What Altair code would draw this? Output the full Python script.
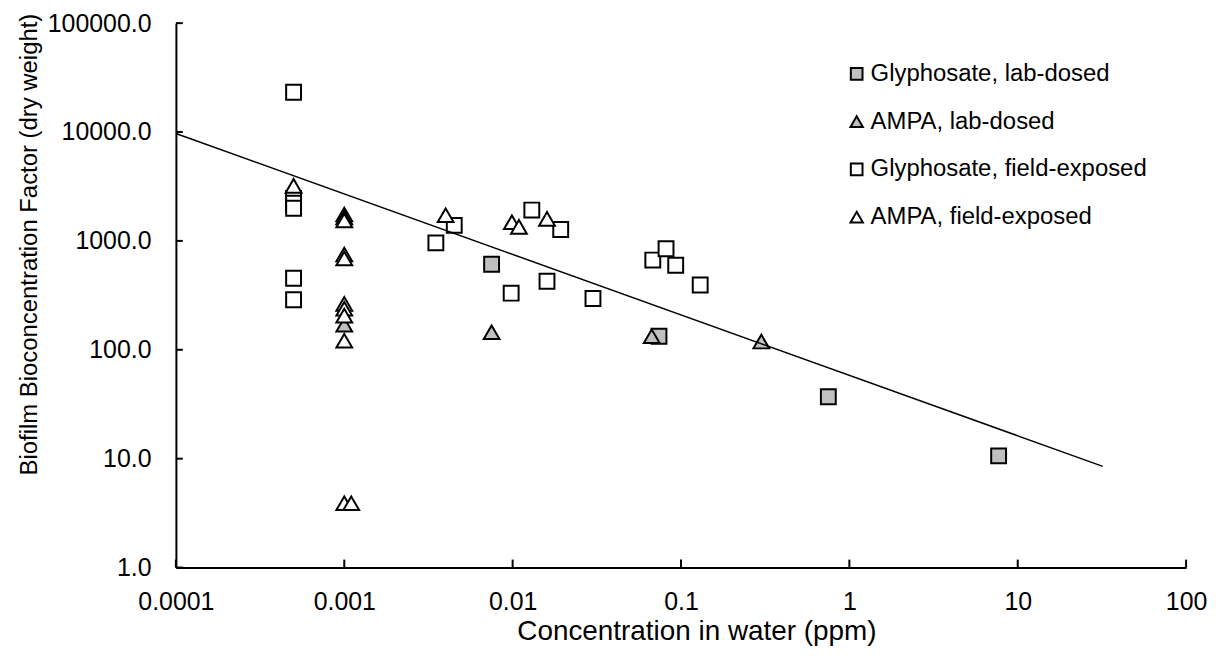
import altair as alt
import pandas as pd

FONT = "Liberation Sans"

series_names = ["Glyphosate, lab-dosed", "AMPA, lab-dosed",
                "Glyphosate, field-exposed", "AMPA, field-exposed"]

gly_lab_x = [0.0075, 0.074, 0.75, 7.7]
gly_lab_y = [610, 133, 37, 10.6]

ampa_lab_x = [0.001, 0.0075, 0.067, 0.30]
ampa_lab_y = [170, 145, 133, 119]

gly_field_x = [0.0005, 0.0005, 0.0005, 0.0005, 0.0005, 0.0005, 0.0035, 0.0045,
               0.0098, 0.013, 0.016, 0.0193, 0.030, 0.068, 0.0815, 0.093, 0.13]
gly_field_y = [23200, 2460, 2215, 1995, 454, 288, 960, 1390,
               331, 1920, 426, 1274, 296, 667, 847, 597, 394]

ampa_field_x = [0.0005, 0.001, 0.001, 0.001, 0.001, 0.001, 0.001, 0.001, 0.001,
                0.001, 0.001, 0.0011, 0.004, 0.0099, 0.0109, 0.016]
ampa_field_y = [3200, 1750, 1640, 1540, 750, 690, 264, 238, 206,
                121, 3.9, 3.9, 1720, 1485, 1345, 1593]

trend_x = [0.0001, 32]
trend_y = [9700, 8.5]

x_ticks = [0.0001, 0.001, 0.01, 0.1, 1, 10, 100]
y_ticks = [1, 10, 100, 1000, 10000, 100000]

X_TITLE = "Concentration in water (ppm)"
Y_TITLE = "Biofilm Bioconcentration Factor (dry weight)"

rows = []
for name, xs, ys in [(series_names[0], gly_lab_x, gly_lab_y),
                     (series_names[1], ampa_lab_x, ampa_lab_y),
                     (series_names[2], gly_field_x, gly_field_y),
                     (series_names[3], ampa_field_x, ampa_field_y)]:
    for xv, yv in zip(xs, ys):
        rows.append({"series": name, "x": xv, "y": yv})
df = pd.DataFrame(rows)
df["order"] = df["series"].map({n: i for i, n in enumerate(series_names)})

trend_df = pd.DataFrame({"x": trend_x, "y": trend_y})
xt_df = pd.DataFrame({"x": x_ticks})
yt_df = pd.DataFrame({"y": y_ticks})

W, H = 1015, 547

xscale = alt.Scale(type="log", domain=[0.0001, 100], nice=False)
yscale = alt.Scale(type="log", domain=[1, 100000], nice=False)

SQ = "M-0.83,-0.83H0.83V0.83H-0.83Z"
TRI = "M0,-0.76L0.88,0.76L-0.88,0.76Z"

legend = alt.Legend(title=None, orient="none", legendX=672, legendY=39,
                    labelFont=FONT, labelFontSize=24, labelColor="black", labelLimit=0,
                    symbolSize=200, symbolStrokeWidth=2, symbolStrokeColor="black",
                    symbolOpacity=1, rowPadding=24, labelOffset=2, padding=0)

x_axis = alt.Axis(values=x_ticks, format="~g", title=X_TITLE,
                  labelFont=FONT, labelFontSize=25, labelColor="black", labelPadding=22.5,
                  ticks=False, tickSize=0, domainColor="black", domainWidth=2, grid=False,
                  titleFont=FONT, titleFontSize=28, titleColor="black", titleFontWeight="normal",
                  titleX=523, titleY=72.5, titleBaseline="alphabetic", titleAlign="center",
                  labelFlush=False, labelOverlap=False, labelBound=False)

y_axis = alt.Axis(values=y_ticks, format=".1f", title=Y_TITLE,
                  labelFont=FONT, labelFontSize=25, labelColor="black", labelPadding=25,
                  ticks=False, tickSize=0, domainColor="black", domainWidth=2, grid=False,
                  titleFont=FONT, titleFontSize=24, titleColor="black", titleFontWeight="normal",
                  titleAngle=270, titleX=-140, titleY=222, titleBaseline="alphabetic",
                  titleAlign="center", labelFlush=False, labelOverlap=False, labelBound=False)

points = alt.Chart(df).mark_point(filled=True, strokeWidth=2,
                                  opacity=1, fillOpacity=1, size=324).encode(
    x=alt.X("x:Q", scale=xscale, axis=x_axis, title=X_TITLE),
    y=alt.Y("y:Q", scale=yscale, axis=y_axis, title=Y_TITLE),
    shape=alt.Shape("series:N", scale=alt.Scale(domain=series_names, range=[SQ, TRI, SQ, TRI]),
                    legend=legend),
    fill=alt.Fill("series:N", scale=alt.Scale(domain=series_names,
                                              range=["#c0c0c0", "#c0c0c0", "#ffffff", "#ffffff"]),
                  legend=legend),
    stroke=alt.Stroke("series:N", scale=alt.Scale(domain=series_names,
                                                  range=["#000000", "#000000", "#000000", "#000000"]),
                      legend=legend),
    order=alt.Order("order:Q"),
)

trend = alt.Chart(trend_df).mark_line(color="black", strokeWidth=1.5).encode(
    x=alt.X("x:Q", scale=xscale, axis=x_axis, title=X_TITLE),
    y=alt.Y("y:Q", scale=yscale, axis=y_axis, title=Y_TITLE),
)

xticks = alt.Chart(xt_df).mark_rule(color="black", strokeWidth=2).encode(
    x=alt.X("x:Q", scale=xscale, axis=x_axis, title=X_TITLE),
    y=alt.value(H), y2=alt.value(H - 8),
)

yticks = alt.Chart(yt_df).mark_rule(color="black", strokeWidth=2).encode(
    y=alt.Y("y:Q", scale=yscale, axis=y_axis, title=Y_TITLE),
    x=alt.value(0), x2=alt.value(7),
)

chart = alt.layer(points, trend, xticks, yticks).properties(
    width=W, height=H,
    autosize=alt.AutoSizeParams(type="none"),
    padding={"left": 168.7, "top": 13.7, "right": 22, "bottom": 79},
    background="white",
).configure_view(stroke=None)

chart.save("out.html", embed_options={"renderer": "svg", "actions": False})
